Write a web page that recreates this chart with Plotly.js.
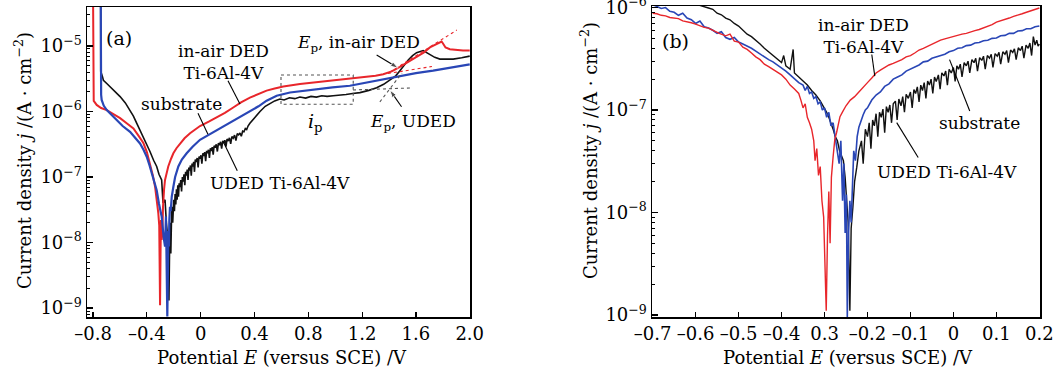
<!DOCTYPE html>
<html>
<head>
<meta charset="utf-8">
<script src="https://cdn.plot.ly/plotly-3.0.1.min.js"></script>
<style>html,body{margin:0;padding:0;background:#fff;}#chart{width:1057px;height:372px;}</style>
</head>
<body>
<div id="chart"></div>
<script>
// ---------- Panel (a): potential E (V vs SCE) and current density j (A/cm2) ----------
const Ea_sub = [-0.743,-0.743,-0.73,-0.723,-0.70,-0.674,-0.64,-0.599,-0.56,-0.525,-0.50,-0.475,-0.45,-0.426,-0.40,-0.377,-0.35,-0.327,-0.31,-0.29,-0.28,-0.265,-0.255,-0.248,-0.241,-0.236,-0.232,-0.228,-0.222,-0.215,-0.208,-0.200,-0.195,-0.190,-0.185,-0.180,-0.175,-0.170,-0.165,-0.160,-0.154,-0.148,-0.142,-0.136,-0.130,-0.124,-0.118,-0.112,-0.106,-0.100,-0.094,-0.088,-0.082,-0.076,-0.070,-0.064,-0.058,-0.052,-0.046,-0.040,-0.033,-0.026,-0.019,-0.012,-0.005,0.002,0.009,0.016,0.023,0.030,0.037,0.044,0.051,0.058,0.065,0.072,0.079,0.086,0.093,0.100,0.108,0.116,0.124,0.132,0.140,0.148,0.156,0.164,0.172,0.180,0.188,0.196,0.205,0.214,0.223,0.232,0.242,0.252,0.262,0.272,0.282,0.292,0.302,0.312,0.322,0.332,0.342,0.352,0.366,0.40,0.441,0.48,0.515,0.55,0.589,0.62,0.66,0.70,0.738,0.78,0.82,0.86,0.90,0.94,0.985,1.03,1.08,1.13,1.184,1.25,1.308,1.36,1.407,1.45,1.481,1.51,1.543,1.575,1.605,1.654,1.704,1.74,1.778,1.877,1.94,2.0];
const Ja_sub = [6e-5,4.1e-6,3.4e-6,3.0e-6,2.7e-6,2.4e-6,2.0e-6,1.69e-6,1.35e-6,1.05e-6,8.5e-7,6.6e-7,5.2e-7,4.1e-7,3.2e-7,2.45e-7,1.8e-7,1.45e-7,1.1e-7,9e-8,4e-8,4.5e-8,2.0e-8,1.4e-8,1.4e-8,1.3e-9,6e-9,2e-8,6.8e-9,3.5e-8,2.0e-8,4.5e-8,3.0e-8,5.5e-8,3.8e-8,6.5e-8,4.5e-8,7.5e-8,5.0e-8,8.0e-8,7.0e-8,9.0e-8,6.0e-8,1.0e-7,8.5e-8,1.1e-7,7.5e-8,1.2e-7,1.05e-7,1.3e-7,9.0e-8,1.4e-7,1.25e-7,1.5e-7,1.05e-7,1.6e-7,1.45e-7,1.7e-7,1.2e-7,1.85e-7,1.7e-7,1.95e-7,1.4e-7,2.05e-7,1.9e-7,2.15e-7,1.6e-7,2.3e-7,2.1e-7,2.4e-7,1.75e-7,2.5e-7,2.3e-7,2.6e-7,1.95e-7,2.75e-7,2.5e-7,2.85e-7,2.2e-7,3.0e-7,2.8e-7,3.15e-7,2.45e-7,3.3e-7,3.05e-7,3.45e-7,2.7e-7,3.55e-7,3.3e-7,3.65e-7,2.9e-7,3.8e-7,3.55e-7,3.95e-7,3.2e-7,4.15e-7,3.9e-7,4.35e-7,3.6e-7,4.6e-7,4.4e-7,4.7e-7,4.2e-7,5.0e-7,4.9e-7,5.5e-7,5.3e-7,6.0e-7,6.6e-7,8.0e-7,1.0e-6,1.2e-6,1.33e-6,1.45e-6,1.55e-6,1.5e-6,1.62e-6,1.57e-6,1.66e-6,1.6e-6,1.7e-6,1.66e-6,1.74e-6,1.7e-6,1.74e-6,1.8e-6,1.82e-6,1.88e-6,1.94e-6,2.1e-6,2.3e-6,2.6e-6,3.0e-6,3.5e-6,4.2e-6,5.1e-6,6.1e-6,7.1e-6,7.9e-6,8.5e-6,7.3e-6,6.7e-6,6.3e-6,6.3e-6,6.6e-6,7.0e-6];

const Ea_air = [-0.80,-0.80,-0.795,-0.773,-0.74,-0.698,-0.65,-0.599,-0.55,-0.50,-0.46,-0.426,-0.40,-0.377,-0.355,-0.339,-0.325,-0.315,-0.308,-0.302,-0.298,-0.295,-0.290,-0.285,-0.280,-0.278,-0.272,-0.265,-0.255,-0.241,-0.22,-0.203,-0.18,-0.154,-0.12,-0.079,-0.04,-0.005,0.06,0.119,0.18,0.242,0.30,0.366,0.43,0.49,0.55,0.614,0.738,0.86,0.985,1.11,1.233,1.30,1.357,1.42,1.481,1.545,1.605,1.66,1.704,1.75,1.791,1.80,1.82,1.852,1.90,1.95,2.0];
const Ja_air = [6e-5,1.68e-6,1.45e-6,1.26e-6,1.13e-6,1.05e-6,9.2e-7,7.9e-7,6.6e-7,5.5e-7,4.2e-7,3.3e-7,2.4e-7,1.6e-7,1.05e-7,7.1e-8,4.5e-8,2.8e-8,1.8e-8,1.1e-9,8e-9,2.2e-8,1.1e-8,1.4e-8,3.5e-8,4.5e-8,6.5e-8,9e-8,1.15e-7,1.45e-7,1.9e-7,2.3e-7,2.75e-7,3.25e-7,3.9e-7,4.65e-7,5.4e-7,6.0e-7,7.0e-7,8.1e-7,9.5e-7,1.15e-6,1.38e-6,1.63e-6,1.87e-6,2.08e-6,2.25e-6,2.4e-6,2.63e-6,2.8e-6,2.95e-6,3.12e-6,3.33e-6,3.5e-6,3.7e-6,4.1e-6,4.8e-6,5.7e-6,6.7e-6,8.0e-6,9.5e-6,1.05e-5,1.17e-5,1.1e-5,9.5e-6,8.9e-6,8.6e-6,8.5e-6,8.5e-6];

const Ea_uded = [-0.743,-0.743,-0.740,-0.736,-0.72,-0.698,-0.66,-0.624,-0.58,-0.525,-0.49,-0.451,-0.425,-0.401,-0.38,-0.364,-0.345,-0.327,-0.31,-0.29,-0.275,-0.265,-0.258,-0.252,-0.248,-0.244,-0.240,-0.236,-0.233,-0.228,-0.223,-0.215,-0.203,-0.19,-0.166,-0.14,-0.104,-0.06,-0.005,0.06,0.119,0.18,0.242,0.30,0.366,0.43,0.49,0.53,0.565,0.664,0.76,0.862,0.98,1.109,1.233,1.357,1.481,1.60,1.728,1.86,2.0];
const Ja_uded = [6e-5,2.14e-6,1.8e-6,1.5e-6,1.22e-6,1.05e-6,8.8e-7,7.4e-7,6.0e-7,4.9e-7,4.0e-7,3.25e-7,2.6e-7,2.04e-7,1.5e-7,1.14e-7,8.5e-8,6.3e-8,3.9e-8,2.5e-8,1.2e-8,8.7e-9,2.5e-8,4e-9,7.4e-10,3e-9,1.5e-8,8.7e-9,2.2e-8,3.5e-8,3.0e-8,5e-8,7.1e-8,1.0e-7,1.45e-7,1.85e-7,2.3e-7,2.9e-7,3.7e-7,4.4e-7,5.2e-7,6.1e-7,7.2e-7,8.5e-7,1.0e-6,1.2e-6,1.46e-6,1.62e-6,1.74e-6,1.95e-6,2.07e-6,2.2e-6,2.33e-6,2.47e-6,2.75e-6,3.1e-6,3.5e-6,3.85e-6,4.2e-6,4.7e-6,5.25e-6];

// construction lines in (a)
const boxE = [0.597,1.134,1.134,0.597,0.597];
const boxJ = [3.6e-6,3.6e-6,1.29e-6,1.29e-6,3.6e-6];
const tanUdedFlatE = [1.132,1.570], tanUdedFlatJ = [2.13e-6,2.29e-6];
const tanUdedRiseE = [1.332,1.496], tanUdedRiseJ = [1.40e-6,3.87e-6];
const tanAirFlatE = [1.392,1.719], tanAirFlatJ = [3.8e-6,4.86e-6];
const tanAirRiseE = [1.407,1.904], tanAirRiseJ = [4.0e-6,1.75e-5];

// ---------- Panel (b) ----------
const Eb_air = [-0.70,-0.69,-0.68,-0.67,-0.66,-0.65,-0.64,-0.63,-0.62,-0.61,-0.60,-0.59,-0.58,-0.57,-0.56,-0.545,-0.53,-0.52,-0.51,-0.50,-0.49,-0.48,-0.47,-0.46,-0.45,-0.44,-0.43,-0.42,-0.41,-0.40,-0.39,-0.38,-0.37,-0.36,-0.355,-0.35,-0.345,-0.34,-0.335,-0.33,-0.325,-0.322,-0.318,-0.314,-0.31,-0.306,-0.302,-0.299,-0.296,-0.293,-0.29,-0.287,-0.284,-0.28,-0.276,-0.272,-0.268,-0.264,-0.258,-0.25,-0.24,-0.23,-0.22,-0.21,-0.20,-0.19,-0.18,-0.17,-0.16,-0.15,-0.14,-0.13,-0.12,-0.11,-0.10,-0.09,-0.08,-0.07,-0.06,-0.05,-0.04,-0.03,-0.02,-0.01,0.0,0.01,0.02,0.03,0.04,0.05,0.06,0.07,0.08,0.09,0.10,0.11,0.12,0.13,0.14,0.15,0.16,0.17,0.18,0.19,0.20];
const Jb_air = [8.8e-7,8.7e-7,8.4e-7,8.3e-7,8.0e-7,7.9e-7,7.8e-7,7.4e-7,7.3e-7,7.1e-7,6.9e-7,6.6e-7,6.4e-7,6.3e-7,6.0e-7,5.6e-7,5.3e-7,5.5e-7,4.7e-7,4.6e-7,4.1e-7,3.9e-7,3.6e-7,3.3e-7,3.1e-7,2.8e-7,2.65e-7,2.5e-7,2.35e-7,2.2e-7,2.0e-7,1.75e-7,1.6e-7,1.45e-7,1.25e-7,1.05e-7,1.15e-7,8.5e-8,7.5e-8,6.5e-8,5.0e-8,3.2e-8,4.2e-8,2.3e-8,2.8e-8,1.3e-8,9e-9,3e-9,1.1e-9,6e-9,1.6e-8,5e-9,2.2e-8,3.5e-8,5.2e-8,6.0e-8,7.5e-8,8.6e-8,9.6e-8,1.1e-7,1.25e-7,1.35e-7,1.5e-7,1.68e-7,1.85e-7,2.05e-7,2.3e-7,2.45e-7,2.6e-7,2.75e-7,2.85e-7,2.95e-7,3.1e-7,3.3e-7,3.4e-7,3.6e-7,3.85e-7,4.0e-7,4.2e-7,4.35e-7,4.6e-7,4.8e-7,4.95e-7,5.1e-7,5.2e-7,5.35e-7,5.5e-7,5.6e-7,5.8e-7,5.95e-7,6.1e-7,6.35e-7,6.5e-7,6.8e-7,7.2e-7,7.4e-7,7.7e-7,7.9e-7,8.2e-7,8.4e-7,8.7e-7,9.0e-7,9.3e-7,9.6e-7,9.9e-7];

const Eb_uded = [-0.70,-0.69,-0.68,-0.67,-0.66,-0.65,-0.64,-0.63,-0.62,-0.61,-0.60,-0.59,-0.58,-0.57,-0.56,-0.55,-0.54,-0.53,-0.52,-0.51,-0.50,-0.49,-0.48,-0.47,-0.46,-0.45,-0.44,-0.43,-0.42,-0.41,-0.40,-0.39,-0.38,-0.37,-0.36,-0.35,-0.345,-0.34,-0.335,-0.33,-0.325,-0.32,-0.315,-0.31,-0.305,-0.30,-0.295,-0.29,-0.285,-0.28,-0.275,-0.27,-0.266,-0.262,-0.258,-0.255,-0.252,-0.249,-0.247,-0.244,-0.241,-0.238,-0.235,-0.232,-0.228,-0.224,-0.22,-0.215,-0.21,-0.205,-0.20,-0.19,-0.18,-0.17,-0.16,-0.15,-0.14,-0.13,-0.12,-0.11,-0.10,-0.09,-0.08,-0.07,-0.06,-0.05,-0.04,-0.03,-0.02,-0.01,0.0,0.01,0.02,0.03,0.04,0.05,0.06,0.07,0.08,0.09,0.10,0.11,0.12,0.13,0.14,0.15,0.16,0.17,0.18,0.19,0.20];
const Jb_uded = [1.07e-6,1.02e-6,9.8e-7,1.0e-6,9.2e-7,9.0e-7,8.4e-7,8.8e-7,7.9e-7,7.6e-7,7.0e-7,7.4e-7,6.5e-7,6.3e-7,6.0e-7,5.6e-7,5.8e-7,5.1e-7,4.9e-7,5.1e-7,4.6e-7,4.4e-7,4.2e-7,4.0e-7,3.75e-7,3.5e-7,3.3e-7,3.1e-7,2.95e-7,2.75e-7,2.6e-7,2.4e-7,2.2e-7,2.0e-7,1.85e-7,1.75e-7,1.55e-7,1.7e-7,1.45e-7,1.5e-7,1.3e-7,1.35e-7,1.15e-7,1.2e-7,1.0e-7,1.05e-7,8.5e-8,9.5e-8,7.0e-8,7.5e-8,5.5e-8,4.0e-8,3.0e-8,5.0e-8,1.3e-8,3e-8,6.3e-9,1.5e-8,9.5e-10,6.3e-9,1.3e-8,8e-9,2.5e-8,4.0e-8,3.2e-8,5.5e-8,6.8e-8,8.0e-8,9.0e-8,1.0e-7,1.05e-7,1.25e-7,1.4e-7,1.5e-7,1.7e-7,1.8e-7,2.0e-7,2.1e-7,2.2e-7,2.4e-7,2.5e-7,2.65e-7,2.75e-7,2.95e-7,3.0e-7,3.2e-7,3.3e-7,3.45e-7,3.5e-7,3.7e-7,3.8e-7,4.0e-7,4.05e-7,4.25e-7,4.3e-7,4.5e-7,4.55e-7,4.75e-7,4.8e-7,5.0e-7,5.05e-7,5.3e-7,5.35e-7,5.6e-7,5.6e-7,5.9e-7,5.95e-7,6.2e-7,6.2e-7,6.5e-7,6.6e-7];

const Eb_sub = [-0.70,-0.66,-0.62,-0.60,-0.58,-0.57,-0.56,-0.55,-0.54,-0.53,-0.52,-0.51,-0.50,-0.49,-0.48,-0.47,-0.46,-0.45,-0.44,-0.43,-0.42,-0.41,-0.40,-0.395,-0.39,-0.38,-0.373,-0.37,-0.36,-0.35,-0.34,-0.33,-0.32,-0.31,-0.30,-0.295,-0.29,-0.285,-0.28,-0.275,-0.27,-0.265,-0.26,-0.256,-0.252,-0.248,-0.245,-0.241,-0.238,-0.234,-0.23,-0.225,-0.22,-0.214,-0.21,-0.205,-0.200,-0.196,-0.192,-0.188,-0.184,-0.180,-0.176,-0.172,-0.168,-0.164,-0.160,-0.156,-0.152,-0.148,-0.144,-0.140,-0.135,-0.131,-0.127,-0.122,-0.118,-0.114,-0.110,-0.105,-0.100,-0.096,-0.092,-0.088,-0.084,-0.080,-0.076,-0.072,-0.068,-0.064,-0.060,-0.056,-0.052,-0.048,-0.044,-0.040,-0.035,-0.031,-0.027,-0.022,-0.018,-0.014,-0.010,-0.005,0.000,0.004,0.008,0.012,0.016,0.020,0.025,0.030,0.034,0.038,0.043,0.048,0.052,0.056,0.061,0.066,0.070,0.074,0.079,0.084,0.088,0.092,0.097,0.102,0.106,0.110,0.115,0.120,0.124,0.128,0.133,0.138,0.142,0.146,0.151,0.156,0.160,0.164,0.169,0.174,0.178,0.182,0.186,0.190,0.194,0.197,0.200];
const Jb_sub = [1.4e-6,1.25e-6,1.12e-6,1.08e-6,1.03e-6,9.9e-7,9.6e-7,8.8e-7,8.5e-7,7.9e-7,7.6e-7,7.0e-7,6.6e-7,6.0e-7,5.5e-7,5.2e-7,4.8e-7,4.4e-7,4.0e-7,3.7e-7,3.4e-7,3.1e-7,2.9e-7,3.4e-7,2.7e-7,2.5e-7,3.9e-7,2.3e-7,2.1e-7,1.9e-7,1.75e-7,1.55e-7,1.4e-7,1.23e-7,1.05e-7,9.5e-8,8.5e-8,7.5e-8,6.5e-8,5.5e-8,5.0e-8,4.0e-8,3.5e-8,3.2e-8,2.2e-8,1.3e-8,8e-9,1.1e-9,7e-9,1.12e-8,2.0e-8,2.75e-8,4.0e-8,5.0e-8,3.0e-8,6.5e-8,5.5e-8,7.5e-8,4.2e-8,8.0e-8,7.0e-8,9.2e-8,5.5e-8,9.5e-8,8.5e-8,1.02e-7,6.0e-8,1.08e-7,9.5e-8,1.12e-7,7.5e-8,1.15e-7,1.22e-7,8.0e-8,1.28e-7,1.1e-7,1.35e-7,9.5e-8,1.42e-7,1.3e-7,1.5e-7,1.05e-7,1.58e-7,1.45e-7,1.68e-7,1.2e-7,1.75e-7,1.55e-7,1.85e-7,1.3e-7,1.92e-7,1.75e-7,2.0e-7,1.45e-7,2.1e-7,1.9e-7,2.2e-7,1.6e-7,2.3e-7,2.15e-7,2.4e-7,1.75e-7,2.5e-7,2.3e-7,2.6e-7,1.9e-7,2.7e-7,2.5e-7,2.8e-7,2.1e-7,2.9e-7,2.7e-7,3.0e-7,2.3e-7,3.1e-7,2.9e-7,3.2e-7,2.4e-7,3.25e-7,3.05e-7,3.35e-7,2.5e-7,3.4e-7,3.2e-7,3.5e-7,2.6e-7,3.55e-7,3.35e-7,3.65e-7,2.8e-7,3.7e-7,3.5e-7,3.8e-7,2.9e-7,3.85e-7,3.65e-7,3.95e-7,3.1e-7,4.05e-7,3.8e-7,4.2e-7,3.2e-7,4.3e-7,4.0e-7,4.5e-7,3.4e-7,5.2e-7,4.3e-7,4.8e-7,4.2e-7,4.4e-7];

// tick labels
const xTicksA = [-0.8,-0.4,0,0.4,0.8,1.2,1.6,2.0];
const xTextA = ['\u20130.8','\u20130.4','0','0.4','0.8','1.2','1.6','2.0'];
const xTicksB = [-0.7,-0.6,-0.5,-0.4,-0.3,-0.2,-0.1,0,0.1,0.2];
const xTextB = ['\u20130.7','\u20130.6','\u20130.5','\u20130.4','0.3','\u20130.2','\u20130.1','0','0.1','0.2'];
const yTicksA = [1e-9,1e-8,1e-7,1e-6,1e-5];
const yTextA = ['10<sup>\u22129</sup>','10<sup>\u22128</sup>','10<sup>\u22127</sup>','10<sup>\u22126</sup>','10<sup>\u22125</sup>'];
const yTicksB = [1e-9,1e-8,1e-7,1e-6];
const yTextB = ['10<sup>\u22129</sup>','10<sup>\u22128</sup>','10<sup>\u22127</sup>','10<sup>\u22126</sup>'];
const minorVals = [];
for (let e = -10; e <= -4; e++) for (let m = 2; m <= 9; m++) minorVals.push(m * Math.pow(10, e));

const RED = '#e8262b', BLUE = '#2946b6', BLACK = '#111111';
const FONT = 'DejaVu Serif, Liberation Serif, serif';

function line(x, y, color, w, xa, ya, dash) {
  return {x: x, y: y, type: 'scatter', mode: 'lines', xaxis: xa, yaxis: ya,
          line: {color: color, width: w, dash: dash || 'solid'}, hoverinfo: 'skip', showlegend: false};
}

const traces = [
  line(Ea_sub, Ja_sub, BLACK, 1.6, 'x', 'y'),
  line(Ea_air, Ja_air, RED, 2, 'x', 'y'),
  line(Ea_uded, Ja_uded, BLUE, 2.2, 'x', 'y'),
  line(boxE, boxJ, '#555', 1.1, 'x', 'y', 'dot'),
  line(tanUdedFlatE, tanUdedFlatJ, '#555', 1.1, 'x', 'y', 'dot'),
  line(tanUdedRiseE, tanUdedRiseJ, '#555', 1.1, 'x', 'y', 'dot'),
  line(tanAirFlatE, tanAirFlatJ, RED, 1.1, 'x', 'y', 'dot'),
  line(tanAirRiseE, tanAirRiseJ, RED, 1.1, 'x', 'y', 'dot'),
  line(Eb_sub, Jb_sub, BLACK, 1.4, 'x2', 'y2'),
  line(Eb_uded, Jb_uded, BLUE, 1.6, 'x2', 'y2'),
  line(Eb_air, Jb_air, RED, 1.4, 'x2', 'y2')
];

// leader lines: [E_tail, j_tail, E_head, j_head, axis, hasArrowHead]
const leaders = [
  [0.203, 2.95e-6, 0.292, 1.30e-6, 'a', false],
  [-0.020, 9.4e-7, 0.054, 4.5e-7, 'a', false],
  [0.272, 1.25e-7, 0.168, 3.46e-7, 'a', false],
  [1.308, 7.3e-6, 1.468, 4.6e-6, 'a', true],
  [1.493, 1.18e-6, 1.406, 2.13e-6, 'a', true],
  [-0.190, 3.48e-7, -0.183, 2.14e-7, 'b', false],
  [0.038, 9.77e-8, -0.009, 3.1e-7, 'b', false],
  [-0.082, 3.44e-8, -0.132, 7.53e-8, 'b', false]
];
leaders.forEach(l => {
  const t = {x: [l[0], l[2]], y: [l[1], l[3]], type: 'scatter', mode: l[5] ? 'lines+markers' : 'lines',
    xaxis: l[4] === 'a' ? 'x' : 'x2', yaxis: l[4] === 'a' ? 'y' : 'y2',
    line: {color: '#000', width: 1.1}, hoverinfo: 'skip', showlegend: false};
  if (l[5]) t.marker = {symbol: 'arrow', size: [0, 8], angleref: 'previous', color: '#000'};
  traces.push(t);
});

// text labels: [text, E, j, axis, size]
const labels = [
  ['(a)', -0.607, 1.32e-5, 'a', 19],
  ['in-air DED<br>Ti-6Al-4V', 0.166, 5.7e-6, 'a', 17],
  ['substrate', -0.141, 1.30e-6, 'a', 17],
  ['UDED Ti-6Al-4V', 0.589, 8.24e-8, 'a', 17],
  ['<i>i</i><sub>p</sub>', 0.857, 6.9e-7, 'a', 19],
  ['<i>E</i><sub>p</sub>, in-air DED', 1.176, 1.11e-5, 'a', 17],
  ['<i>E</i><sub>p</sub>, UDED', 1.577, 6.9e-7, 'a', 17],
  ['(b)', -0.647, 4.73e-7, 'b', 19],
  ['in-air DED<br>Ti-6Al-4V', -0.209, 5.22e-7, 'b', 17],
  ['substrate', 0.061, 7.53e-8, 'b', 17],
  ['UDED Ti-6Al-4V', -0.015, 2.51e-8, 'b', 17]
];

const annotations = [];
labels.forEach(l => {
  annotations.push({text: l[0], x: l[1], y: Math.log10(l[2]),
    xref: l[3] === 'a' ? 'x' : 'x2', yref: l[3] === 'a' ? 'y' : 'y2',
    showarrow: false, xanchor: 'center', yanchor: 'middle',
    font: {family: FONT, size: l[4], color: '#000'}});
});
// axis titles
const xTitle = 'Potential <i>E</i> (versus SCE) /V';
const yTitle = 'Current density <i>j</i> /(A \u00b7 cm<sup>\u22122</sup>)';
annotations.push({text: xTitle, xref: 'paper', yref: 'paper', x: 282/1057, y: 1 - 357/372, showarrow: false, xanchor: 'center', yanchor: 'middle', font: {family: FONT, size: 18, color: '#000'}});
annotations.push({text: xTitle, xref: 'paper', yref: 'paper', x: 848/1057, y: 1 - 357/372, showarrow: false, xanchor: 'center', yanchor: 'middle', font: {family: FONT, size: 18, color: '#000'}});
annotations.push({text: yTitle, xref: 'paper', yref: 'paper', x: 23/1057, y: 1 - 161/372, textangle: -90, showarrow: false, xanchor: 'center', yanchor: 'middle', font: {family: FONT, size: 18, color: '#000'}});
annotations.push({text: yTitle, xref: 'paper', yref: 'paper', x: 589/1057, y: 1 - 151/372, textangle: -90, showarrow: false, xanchor: 'center', yanchor: 'middle', font: {family: FONT, size: 18, color: '#000'}});

function xaxis(domain, range, tv, tt, anchor) {
  return {domain: domain, range: range, anchor: anchor, tickmode: 'array', tickvals: tv, ticktext: tt,
    tickangle: 0, ticks: 'inside', ticklen: 5, tickwidth: 1.2, tickcolor: '#000',
    showline: true, mirror: true, linecolor: '#000', linewidth: 1.5,
    showgrid: false, zeroline: false, fixedrange: true, ticklabeloverflow: 'allow',
    tickfont: {family: FONT, size: 18, color: '#000'}};
}
function yaxis(domain, range, tv, tt, anchor) {
  return {type: 'log', domain: domain, range: range, anchor: anchor, tickmode: 'array', tickvals: tv, ticktext: tt,
    ticks: 'inside', ticklen: 6, tickwidth: 1.2, tickcolor: '#000',
    minor: {tickmode: 'array', tickvals: minorVals, ticks: 'inside', ticklen: 3, tickcolor: '#000', tickwidth: 1},
    showline: true, mirror: true, linecolor: '#000', linewidth: 1.5,
    showgrid: false, zeroline: false, fixedrange: true, ticklabeloverflow: 'allow',
    tickfont: {family: FONT, size: 18, color: '#000'}};
}

const layout = {
  width: 1057, height: 372,
  margin: {l: 0, r: 0, t: 0, b: 0},
  paper_bgcolor: '#fff', plot_bgcolor: '#fff',
  showlegend: false,
  xaxis: xaxis([87/1057, 470/1057], [-0.845, 2.002], xTicksA, xTextA, 'y'),
  yaxis: yaxis([1 - 317/372, 1 - 7/372], [-9.137, -4.405], yTicksA, yTextA, 'x'),
  xaxis2: xaxis([652/1057, 1040/1057], [-0.7015, 0.2015], xTicksB, xTextB, 'y2'),
  yaxis2: yaxis([1 - 317/372, 1 - 6/372], [-9.02, -5.985], yTicksB, yTextB, 'x2'),
  annotations: annotations
};

Plotly.newPlot('chart', traces, layout, {displayModeBar: false, staticPlot: true});
</script>
</body>
</html>
